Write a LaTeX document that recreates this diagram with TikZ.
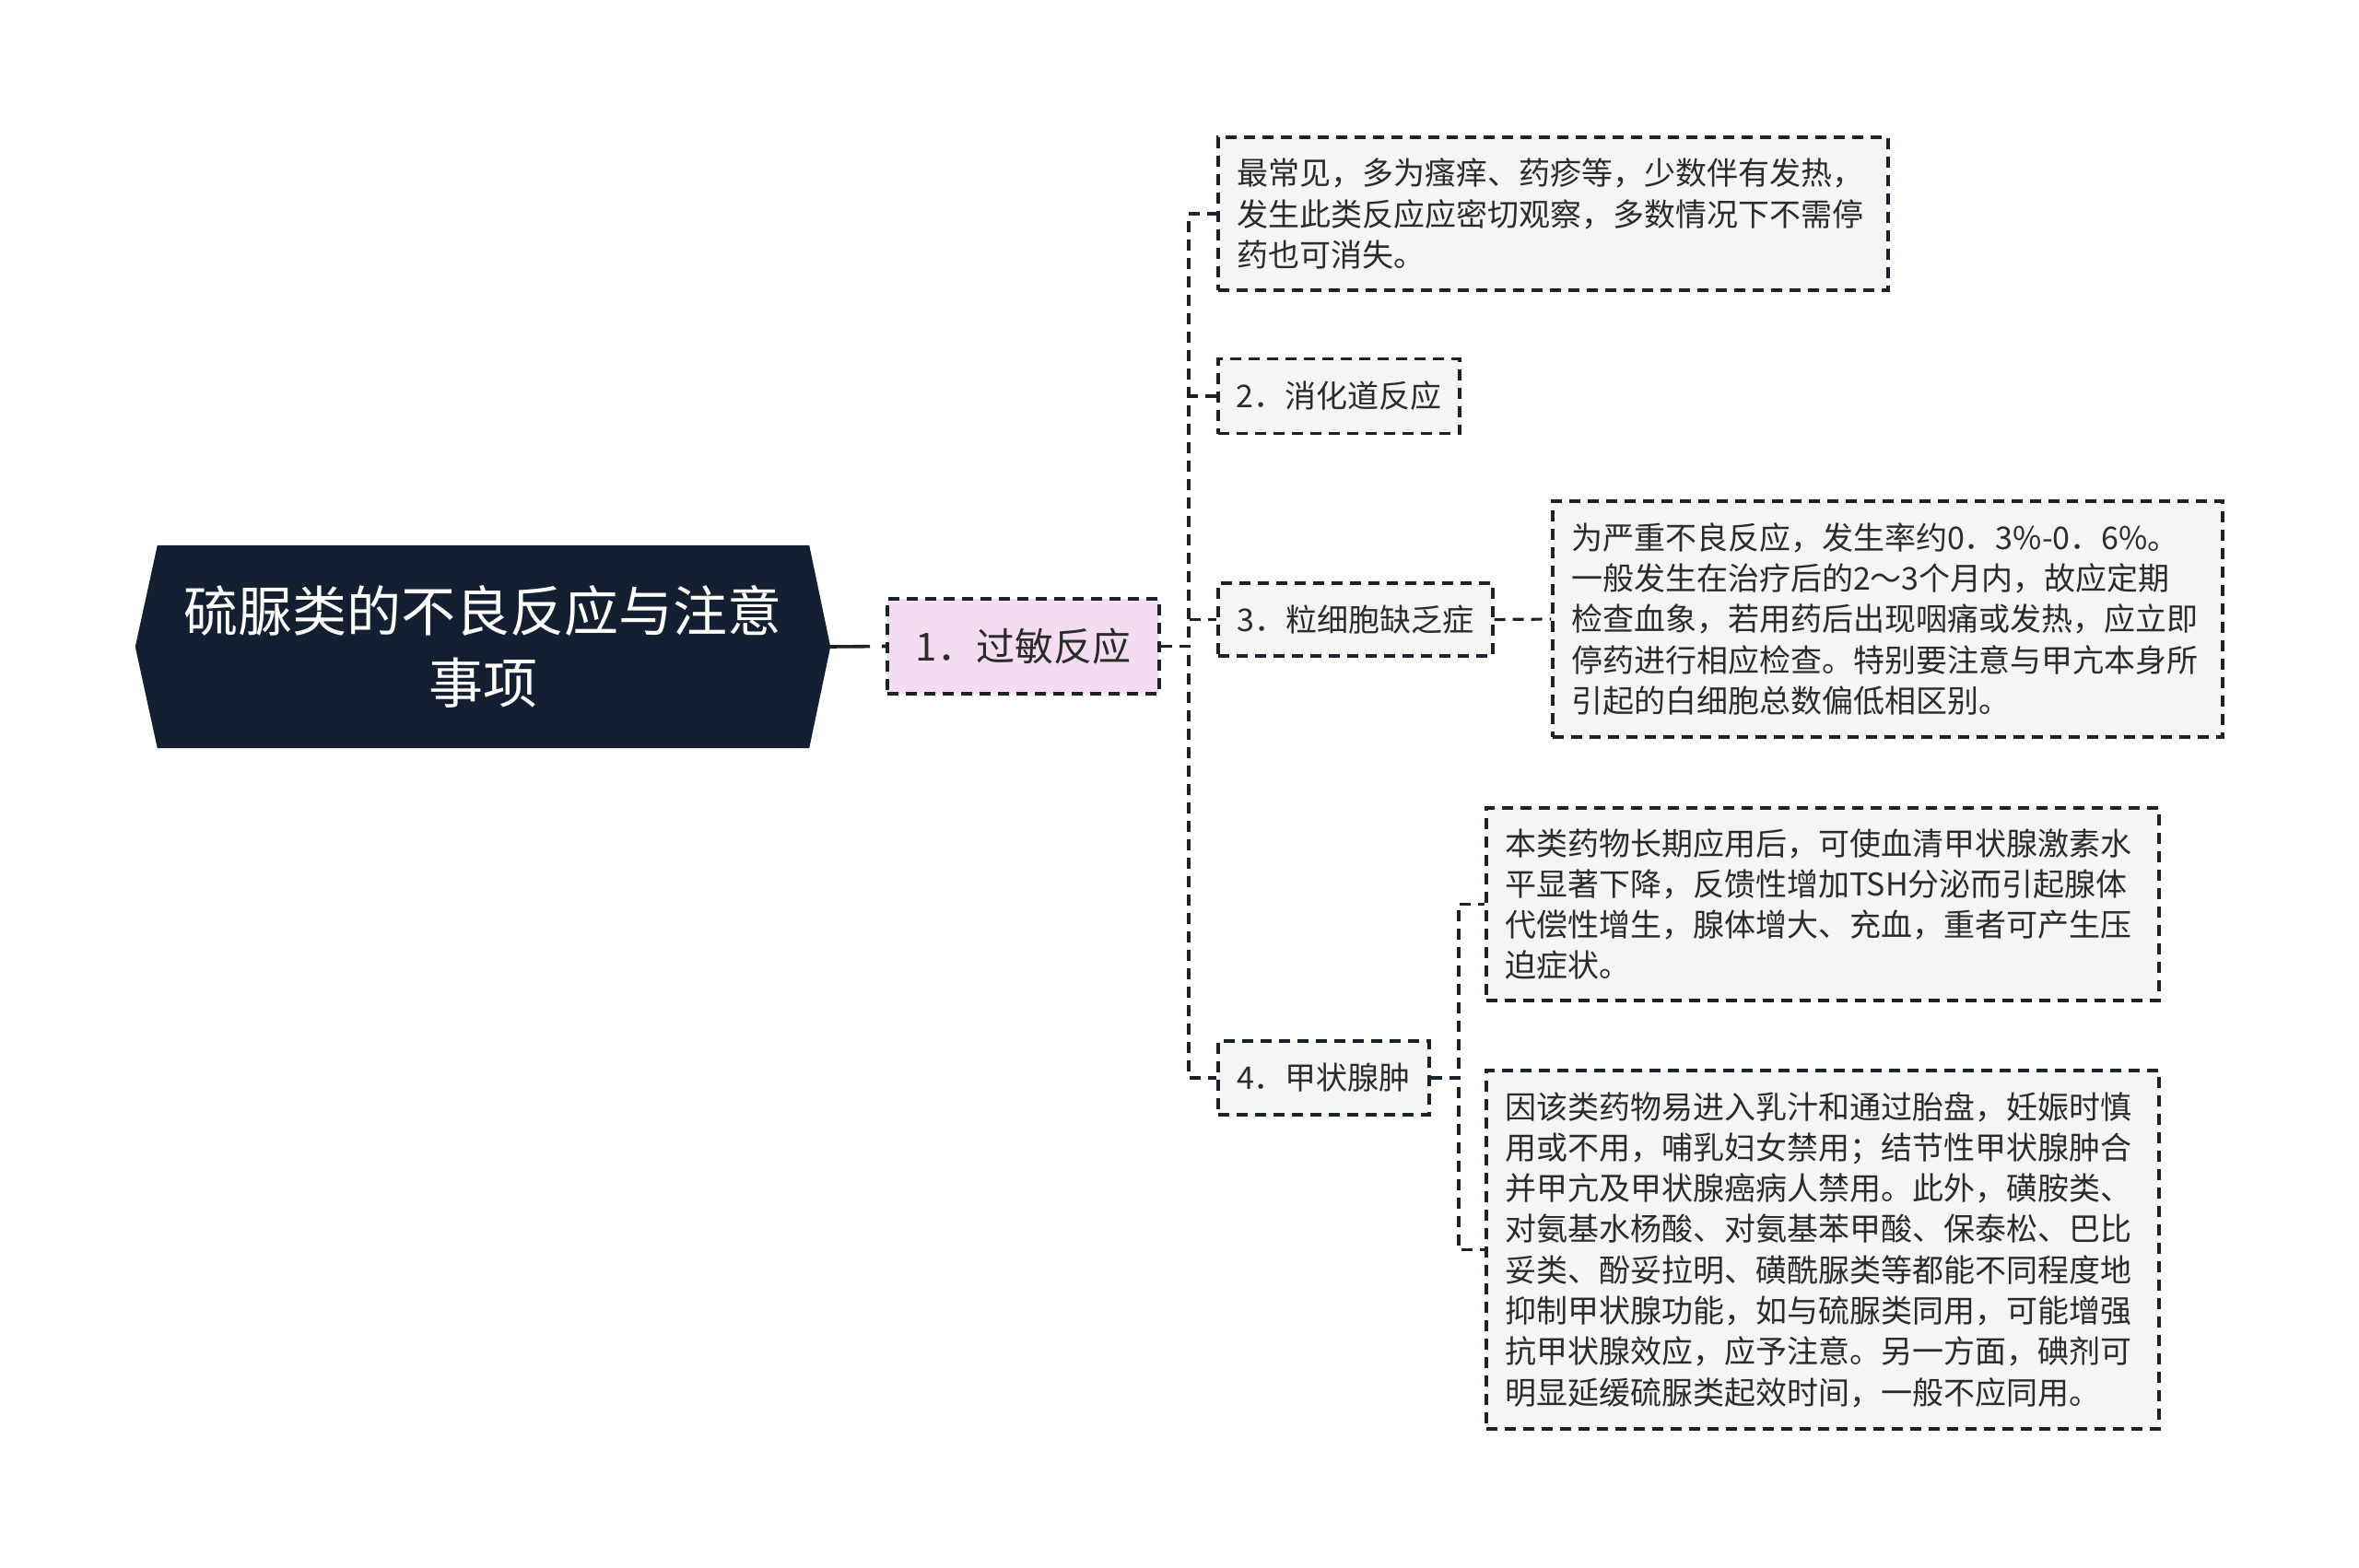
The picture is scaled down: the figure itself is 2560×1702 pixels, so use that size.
\documentclass[tikz,border=0pt]{standalone}
\usepackage{fontspec}
\setmainfont{Noto Sans CJK SC}
\definecolor{rootc}{HTML}{142031}
\definecolor{linec}{HTML}{1C222B}
\definecolor{pinkc}{HTML}{F5DDF1}
\definecolor{leafc}{HTML}{F5F5F5}
\definecolor{txtc}{HTML}{2B2B2B}
\begin{document}
\begin{tikzpicture}[x=1pt,y=-1pt,
  dashline/.style={draw=linec, line width=3.2pt, dash pattern=on 12pt off 8pt},
  leafbox/.style={dashline, fill=leafc, text=txtc, font=\fontsize{34}{44.3}\selectfont, inner xsep=20pt, inner ysep=0pt, align=left},
  labelbox/.style={dashline, fill=leafc, text=txtc, font=\fontsize{34}{44.3}\selectfont, inner sep=0pt, align=center},
  conn/.style={dashline}
]
\useasboundingbox (0,0) rectangle (2560,1702);
\fill[white] (0,0) rectangle (2560,1702);

% root
\node[minimum width=754pt, minimum height=220pt, inner sep=0pt] (root) at (524,702) {};
\fill[rootc] (root.west) -- ([xshift=24pt]root.north west) -- ([xshift=-23pt]root.north east) -- (root.east) -- ([xshift=-23pt]root.south east) -- ([xshift=24pt]root.south west) -- cycle;
\node[text=white, font=\fontsize{59}{78}\selectfont, align=center] (roottext) at (root.center) {硫脲类的不良反应与注意\\事项};

% level 1
\node[dashline, fill=pinkc, text=txtc, font=\fontsize{42}{50}\selectfont, inner sep=0pt, minimum width=295pt, minimum height=103pt] (n1) at (1110.5,701.5) {1．过敏反应};

% level 2
\node[leafbox, minimum width=727pt, minimum height=166pt, text width=687pt] (a) at (1685.5,232) {最常见，多为瘙痒、药疹等，少数伴有发热，\\发生此类反应应密切观察，多数情况下不需停\\药也可消失。};
\node[labelbox, minimum width=262pt, minimum height=81pt] (n2) at (1453,430) {2．消化道反应};
\node[labelbox, minimum width=298pt, minimum height=79pt] (n3) at (1471,672.5) {3．粒细胞缺乏症};
\node[labelbox, minimum width=229pt, minimum height=80pt] (n4) at (1436.5,1170) {4．甲状腺肿};

% level 3
\node[leafbox, minimum width=727pt, minimum height=256pt, text width=687pt] (c3) at (2048.5,672) {为严重不良反应，发生率约0．3\%-0．6\%。\\一般发生在治疗后的2～3个月内，故应定期\\检查血象，若用药后出现咽痛或发热，应立即\\停药进行相应检查。特别要注意与甲亢本身所\\引起的白细胞总数偏低相区别。};
\node[leafbox, minimum width=730pt, minimum height=209pt, text width=690pt] (b4) at (1978,981.5) {本类药物长期应用后，可使血清甲状腺激素水\\平显著下降，反馈性增加TSH分泌而引起腺体\\代偿性增生，腺体增大、充血，重者可产生压\\迫症状。};
\node[leafbox, minimum width=730pt, minimum height=389pt, text width=690pt] (c4) at (1978,1356.5) {因该类药物易进入乳汁和通过胎盘，妊娠时慎\\用或不用，哺乳妇女禁用；结节性甲状腺肿合\\并甲亢及甲状腺癌病人禁用。此外，磺胺类、\\对氨基水杨酸、对氨基苯甲酸、保泰松、巴比\\妥类、酚妥拉明、磺酰脲类等都能不同程度地\\抑制甲状腺功能，如与硫脲类同用，可能增强\\抗甲状腺效应，应予注意。另一方面，碘剂可\\明显延缓硫脲类起效时间，一般不应同用。};

% connectors
\draw[draw=linec, line width=3.6pt, dash pattern=on 43pt off 13pt on 10pt off 10pt] (root.east) -- (n1.west);
\coordinate (j1) at (1290,701.5);
\draw[conn] (n1.east) -- (j1) |- (a.west);
\draw[conn] (n1.east) -- (j1) |- (n2.west);
\draw[conn] (n1.east) -- (j1) |- (n3.west);
\draw[conn] (n1.east) -- (j1) |- (n4.west);
\draw[conn] (n3.east) -- (c3.west);
\coordinate (j4) at (1583,1170);
\draw[conn] (n4.east) -- (j4) |- (b4.west);
\draw[conn] (n4.east) -- (j4) |- (c4.west);
\end{tikzpicture}
\end{document}
